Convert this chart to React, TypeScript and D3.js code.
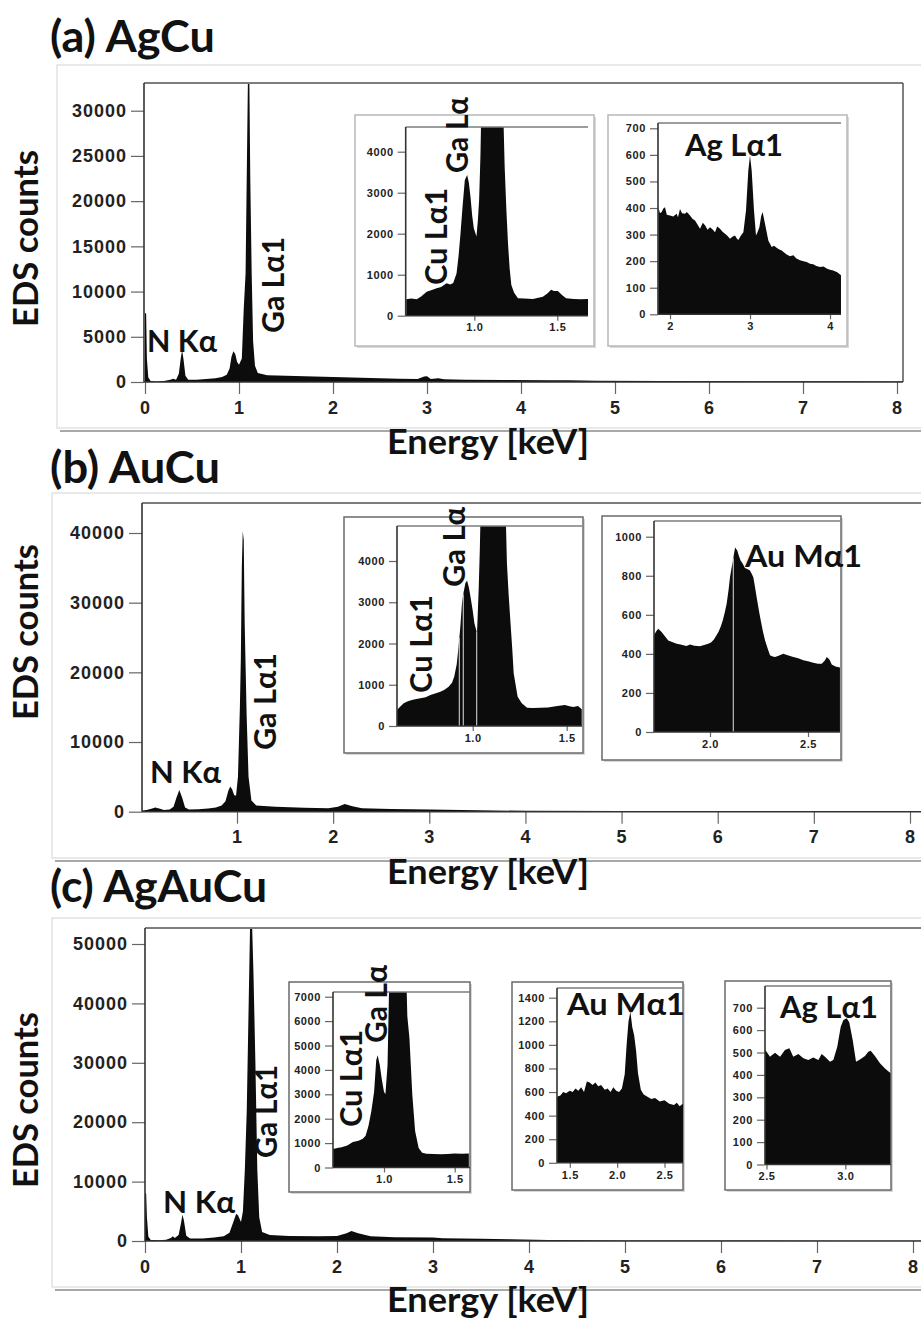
import React, { useEffect, useRef } from 'react';
import * as d3 from 'd3';

type Pt = [number, number];

// ---- main spectra, [energy keV, EDS counts] ----
const agcuSpectrum: Pt[] = [
  [0, 7600], [0.012, 7600], [0.02, 2600], [0.035, 500], [0.06, 120], [0.12, 60], [0.2, 110], [0.27, 250],
  [0.3, 350], [0.33, 260], [0.36, 900], [0.38, 2600], [0.395, 3500], [0.41, 2500], [0.43, 700], [0.46, 260],
  [0.55, 260], [0.65, 330], [0.75, 420], [0.82, 560], [0.87, 800], [0.9, 1500], [0.92, 2800], [0.94, 3400],
  [0.96, 3100], [0.98, 2200], [1.0, 1900], [1.03, 2600], [1.05, 8000], [1.07, 12000], [1.085, 25000],
  [1.095, 33500], [1.11, 33500], [1.12, 22500], [1.135, 12000], [1.15, 4500], [1.17, 1800], [1.2, 1000],
  [1.3, 750], [1.5, 680], [1.8, 600], [2.1, 520], [2.4, 430], [2.7, 360], [2.9, 330], [2.97, 620], [3.0, 640],
  [3.04, 340], [3.12, 420], [3.18, 300], [3.4, 260], [3.8, 220], [4.3, 180], [4.5, 200], [4.8, 150],
  [5.5, 120], [6.5, 90], [7.5, 70], [8.1, 60],
];
const aucuSpectrum: Pt[] = [
  [0.0, 150], [0.06, 250], [0.1, 400], [0.15, 600], [0.19, 450], [0.24, 250], [0.3, 300], [0.34, 700],
  [0.37, 2000], [0.4, 3100], [0.43, 2000], [0.46, 600], [0.5, 300], [0.6, 350], [0.7, 450], [0.78, 600],
  [0.84, 900], [0.88, 1500], [0.91, 3000], [0.93, 3600], [0.95, 3200], [0.97, 2400], [0.99, 2300],
  [1.01, 5000], [1.02, 10000], [1.03, 15000], [1.04, 22000], [1.05, 35000], [1.06, 40300], [1.07, 39000],
  [1.08, 27000], [1.1, 14000], [1.12, 5000], [1.15, 1600], [1.2, 900], [1.4, 700], [1.7, 550], [1.95, 500],
  [2.05, 700], [2.12, 1100], [2.2, 800], [2.3, 500], [2.6, 380], [3.0, 300], [3.5, 200], [4.0, 130],
  [5.0, 90], [6.0, 70], [7.0, 50], [8.3, 40],
];
const agaucuSpectrum: Pt[] = [
  [0, 8000], [0.012, 8000], [0.02, 4000], [0.035, 700], [0.06, 150], [0.15, 120], [0.22, 200], [0.27, 500],
  [0.29, 800], [0.31, 500], [0.35, 1000], [0.375, 3000], [0.39, 4400], [0.405, 3500], [0.43, 900],
  [0.47, 400], [0.6, 420], [0.72, 600], [0.82, 800], [0.88, 1400], [0.92, 3200], [0.95, 4600], [0.97, 4300],
  [1.0, 3200], [1.02, 5000], [1.04, 12000], [1.06, 22000], [1.08, 40000], [1.095, 53500], [1.115, 53500],
  [1.13, 45000], [1.15, 30000], [1.17, 12000], [1.19, 4000], [1.22, 1500], [1.3, 1000], [1.5, 850],
  [1.8, 800], [2.0, 850], [2.1, 1300], [2.15, 1700], [2.22, 1300], [2.35, 800], [2.6, 650], [3.0, 600],
  [3.1, 450], [3.5, 380], [3.8, 300], [4.2, 150], [5.0, 90], [6.0, 70], [7.3, 60], [7.5, 40], [8.3, 30],
];

// ---- inset spectra ----
const agcuCuGa: Pt[] = [
  [0.59, 400], [0.62, 420], [0.653, 400], [0.68, 470], [0.713, 585], [0.74, 620], [0.773, 668], [0.8, 700],
  [0.833, 790], [0.855, 760], [0.873, 800], [0.893, 1030], [0.905, 1450], [0.917, 2010], [0.93, 2700],
  [0.943, 3310], [0.957, 3430], [0.967, 3250], [0.977, 2900], [0.987, 2450], [0.997, 2130], [1.013, 1930],
  [1.021, 2300], [1.029, 2820], [1.037, 3900], [1.043, 5200], [1.1, 5600], [1.173, 5200], [1.183, 3630],
  [1.193, 2600], [1.203, 1770], [1.213, 1150], [1.223, 750], [1.24, 560], [1.263, 425], [1.3, 420],
  [1.353, 410], [1.38, 430], [1.413, 465], [1.44, 540], [1.463, 630], [1.48, 600], [1.503, 600], [1.53, 500],
  [1.553, 425], [1.6, 410], [1.64, 400], [1.687, 410],
];
const agcuAg: Pt[] = [
  [1.854, 403], [1.875, 380], [1.896, 385], [1.917, 398], [1.9375, 403], [1.96, 375], [2.0, 372], [2.04, 368],
  [2.083, 378], [2.1, 365], [2.125, 396], [2.15, 380], [2.1875, 378], [2.21, 385], [2.25, 372], [2.28, 360],
  [2.3125, 353], [2.34, 340], [2.375, 322], [2.41, 345], [2.4375, 335], [2.47, 318], [2.5, 328], [2.53, 320],
  [2.5625, 309], [2.59, 330], [2.625, 322], [2.66, 310], [2.6875, 303], [2.72, 295], [2.75, 284], [2.78, 292],
  [2.8125, 297], [2.835, 285], [2.854, 280], [2.885, 296], [2.917, 309], [2.95, 391], [2.979, 541], [3.0, 598],
  [3.021, 541], [3.05, 391], [3.075, 297], [3.095, 310], [3.117, 328], [3.14, 370], [3.158, 385], [3.1875, 341],
  [3.229, 278], [3.271, 253], [3.3, 258], [3.333, 250], [3.36, 245], [3.396, 240], [3.43, 232], [3.458, 225],
  [3.5, 218], [3.542, 222], [3.58, 210], [3.625, 203], [3.67, 200], [3.708, 197], [3.75, 190], [3.79, 188],
  [3.83, 182], [3.875, 178], [3.92, 180], [3.958, 172], [4.0, 168], [4.04, 165], [4.09, 158], [4.1375, 147],
];
const aucuCuGa: Pt[] = [
  [0.597, 388], [0.615, 470], [0.633, 550], [0.655, 600], [0.677, 630], [0.7, 655], [0.722, 672], [0.75, 700],
  [0.775, 752], [0.8, 790], [0.828, 833], [0.85, 880], [0.872, 954], [0.89, 1050], [0.902, 1197], [0.915, 1500],
  [0.925, 1925], [0.935, 2450], [0.943, 2980], [0.952, 3250], [0.961, 3463], [0.97, 3530], [0.98, 3350],
  [0.988, 3138], [1.0, 2800], [1.009, 2493], [1.023, 2250], [1.032, 3342], [1.038, 4300], [1.044, 5600],
  [1.1, 5800], [1.173, 5600], [1.182, 3950], [1.191, 3200], [1.2, 2573], [1.21, 1900], [1.218, 1279],
  [1.239, 711], [1.26, 560], [1.289, 444], [1.32, 435], [1.36, 440], [1.4, 450], [1.45, 485], [1.49, 510],
  [1.515, 480], [1.535, 460], [1.56, 485], [1.58, 405],
];
const aucuAu: Pt[] = [
  [1.714, 495], [1.725, 515], [1.736, 529], [1.745, 520], [1.753, 512], [1.77, 490], [1.787, 469], [1.81, 460],
  [1.83, 452], [1.85, 448], [1.864, 444], [1.88, 440], [1.898, 448], [1.92, 442], [1.949, 439], [1.97, 446],
  [1.991, 452], [2.005, 458], [2.02, 473], [2.03, 490], [2.043, 512], [2.055, 540], [2.065, 571], [2.075, 610],
  [2.085, 657], [2.095, 730], [2.102, 792], [2.11, 840], [2.116, 869], [2.122, 910], [2.128, 945], [2.139, 929],
  [2.148, 900], [2.156, 878], [2.168, 860], [2.178, 840], [2.19, 835], [2.204, 827], [2.212, 812], [2.221, 792],
  [2.23, 740], [2.238, 690], [2.25, 620], [2.259, 571], [2.27, 515], [2.281, 469], [2.295, 425], [2.306, 393],
  [2.32, 386], [2.332, 384], [2.35, 390], [2.374, 401], [2.4, 392], [2.425, 384], [2.45, 378], [2.476, 367],
  [2.5, 362], [2.527, 354], [2.55, 350], [2.57, 350], [2.585, 365], [2.596, 384], [2.61, 370], [2.621, 345],
  [2.64, 335], [2.663, 330],
];
const agaucuCuGa: Pt[] = [
  [0.64, 760], [0.67, 800], [0.7, 830], [0.74, 900], [0.78, 1040], [0.82, 1100], [0.85, 1180], [0.87, 1300],
  [0.89, 1700], [0.91, 2300], [0.93, 3100], [0.945, 4400], [0.955, 4600], [0.97, 4200], [0.985, 3600],
  [1.0, 3100], [1.01, 3000], [1.025, 4200], [1.04, 8500], [1.155, 8500], [1.165, 6200], [1.18, 5300],
  [1.2, 3000], [1.22, 1500], [1.245, 800], [1.27, 600], [1.3, 560], [1.35, 550], [1.4, 540], [1.45, 555],
  [1.5, 570], [1.55, 560], [1.6, 570],
];
const agaucuAu: Pt[] = [
  [1.365, 560], [1.4, 570], [1.43, 600], [1.46, 590], [1.5, 610], [1.53, 600], [1.56, 630], [1.59, 610],
  [1.62, 640], [1.65, 600], [1.68, 690], [1.71, 680], [1.74, 660], [1.77, 680], [1.8, 650], [1.83, 660],
  [1.87, 620], [1.9, 630], [1.93, 600], [1.96, 640], [1.99, 610], [2.02, 600], [2.05, 630], [2.08, 750],
  [2.1, 1000], [2.12, 1200], [2.14, 1280], [2.16, 1150], [2.18, 1080], [2.2, 950], [2.22, 760], [2.25, 620],
  [2.28, 580], [2.32, 560], [2.36, 540], [2.4, 550], [2.45, 520], [2.5, 530], [2.55, 500], [2.6, 490],
  [2.63, 510], [2.66, 480], [2.695, 500],
];
const agaucuAg: Pt[] = [
  [2.49, 514], [2.522, 481], [2.554, 499], [2.586, 481], [2.617, 511], [2.645, 519], [2.67, 481], [2.702, 493],
  [2.734, 474], [2.765, 466], [2.797, 478], [2.829, 466], [2.85, 493], [2.871, 481], [2.903, 459], [2.924, 466],
  [2.949, 526], [2.971, 615], [2.988, 645], [3.009, 653], [3.025, 635], [3.047, 556], [3.068, 459], [3.093, 469],
  [3.125, 484], [3.146, 503], [3.161, 508], [3.188, 484], [3.22, 452], [3.252, 429], [3.288, 407],
];

// missing channels that show as light lines through the panel (b) insets
const aucuCuGaGaps = [0.929, 0.95, 1.021];
const aucuAuGaps = [2.119];

// ---- ticks ----
const energyTicks = [0, 1, 2, 3, 4, 5, 6, 7, 8];
const energyTicksB = [1, 2, 3, 4, 5, 6, 7, 8];
const countTicksA = [0, 5000, 10000, 15000, 20000, 25000, 30000];
const countTicksB = [0, 10000, 20000, 30000, 40000];
const countTicksC = [0, 10000, 20000, 30000, 40000, 50000];

const FONT = 'Lato, "Open Sans", sans-serif';
const TICK_FONT = '"Liberation Sans", Arial, sans-serif';

type Label = { text: string; x: number; y: number; size: number; len: number; rot?: boolean };

const mainPanels = [
  {
    id: 'a', data: agcuSpectrum, box: [57, 65, 900, 363], left: 144, right: 903, top: 83, rightLine: true,
    xCal: [0, 145, 8, 897], yCal: [0, 382, 30000, 110.7], xTicks: energyTicks, yTicks: countTicksA,
    labels: [
      { text: '(a) AgCu', x: 50, y: 52, size: 43, len: 165 },
      { text: 'EDS counts', x: 38, y: 327, size: 35, len: 177, rot: true },
      { text: 'Energy [keV]', x: 387, y: 454, size: 34, len: 202 },
      { text: 'N Kα', x: 147, y: 352, size: 30, len: 70 },
      { text: 'Ga Lα1', x: 284, y: 333, size: 30, len: 96, rot: true },
    ] as Label[],
  },
  {
    id: 'b', data: aucuSpectrum, box: [52, 493, 900, 365], left: 142, right: 930, top: 503, rightLine: false,
    xCal: [1, 237, 8, 910], yCal: [0, 811.7, 40000, 533], xTicks: energyTicksB, yTicks: countTicksB,
    labels: [
      { text: '(b) AuCu', x: 50, y: 483, size: 43, len: 170 },
      { text: 'EDS counts', x: 38, y: 720, size: 35, len: 176, rot: true },
      { text: 'Energy [keV]', x: 387, y: 884, size: 34, len: 202 },
      { text: 'N Kα', x: 150, y: 783, size: 30, len: 71 },
      { text: 'Ga Lα1', x: 276, y: 750, size: 30, len: 97, rot: true },
    ] as Label[],
  },
  {
    id: 'c', data: agaucuSpectrum, box: [52, 918, 900, 369], left: 145, right: 930, top: 928, rightLine: false,
    xCal: [0, 145, 8, 913], yCal: [0, 1241, 50000, 944], xTicks: energyTicks, yTicks: countTicksC,
    labels: [
      { text: '(c) AgAuCu', x: 50, y: 902, size: 43, len: 217 },
      { text: 'EDS counts', x: 38, y: 1188, size: 35, len: 176, rot: true },
      { text: 'Energy [keV]', x: 387, y: 1312, size: 34, len: 202 },
      { text: 'N Kα', x: 163, y: 1213, size: 30, len: 72 },
      { text: 'Ga Lα1', x: 277, y: 1158, size: 30, len: 93, rot: true },
    ] as Label[],
  },
];

const insets = [
  {
    id: 'a1', data: agcuCuGa, box: [355, 115, 239, 231], boxColor: '#b8b8b8', left: 405.7, right: 588, top: 127,
    xCal: [1.0, 474.3, 1.5, 557.3], yCal: [0, 315.7, 4000, 151.7], xTicks: [1.0, 1.5], xFmt: '.1f',
    yTicks: [0, 1000, 2000, 3000, 4000], gaps: [] as number[],
    labels: [
      { text: 'Cu Lα1', x: 447, y: 285, size: 30, len: 97, rot: true },
      { text: 'Ga Lα', x: 468, y: 173, size: 30, len: 76, rot: true },
    ] as Label[],
  },
  {
    id: 'a2', data: agcuAg, box: [608, 115, 239, 231], boxColor: '#b8b8b8', left: 658, right: 841, top: 123,
    xCal: [2, 670, 4, 830], yCal: [0, 314.3, 700, 128.3], xTicks: [2, 3, 4], xFmt: 'd',
    yTicks: [0, 100, 200, 300, 400, 500, 600, 700], gaps: [] as number[],
    labels: [{ text: 'Ag Lα1', x: 685, y: 156, size: 30, len: 98 }] as Label[],
  },
  {
    id: 'b1', data: aucuCuGa, box: [344, 517, 239, 236], boxColor: '#6a6a6a', left: 397, right: 582, top: 526,
    xCal: [1.0, 472.7, 1.5, 566.7], yCal: [0, 726, 4000, 561], xTicks: [1.0, 1.5], xFmt: '.1f',
    yTicks: [0, 1000, 2000, 3000, 4000], gaps: aucuCuGaGaps,
    labels: [
      { text: 'Cu Lα1', x: 432, y: 693, size: 30, len: 98, rot: true },
      { text: 'Ga Lα', x: 465, y: 587, size: 30, len: 80, rot: true },
    ] as Label[],
  },
  {
    id: 'b2', data: aucuAu, box: [602, 516, 239, 244], boxColor: '#6a6a6a', left: 654, right: 840, top: 521,
    xCal: [2.0, 710, 2.5, 808], yCal: [0, 732, 1000, 536.7], xTicks: [2.0, 2.5], xFmt: '.1f',
    yTicks: [0, 200, 400, 600, 800, 1000], gaps: aucuAuGaps,
    labels: [{ text: 'Au Mα1', x: 745, y: 567, size: 30, len: 117 }] as Label[],
  },
  {
    id: 'c1', data: agaucuCuGa, box: [289, 982, 181, 210], boxColor: '#6a6a6a', left: 333, right: 470, top: 992,
    xCal: [1.0, 384, 1.5, 454.7], yCal: [0, 1167.5, 7000, 996.7], xTicks: [1.0, 1.5], xFmt: '.1f',
    yTicks: [0, 1000, 2000, 3000, 4000, 5000, 6000, 7000], gaps: [] as number[],
    labels: [
      { text: 'Cu Lα1', x: 362, y: 1127, size: 30, len: 97, rot: true },
      { text: 'Ga Lα', x: 387, y: 1043, size: 30, len: 78, rot: true },
    ] as Label[],
  },
  {
    id: 'c2', data: agaucuAu, box: [512, 982, 171, 208], boxColor: '#6a6a6a', left: 557, right: 683, top: 988,
    xCal: [1.5, 569.8, 2.5, 664.5], yCal: [0, 1162.8, 1400, 997.7], xTicks: [1.5, 2.0, 2.5], xFmt: '.1f',
    yTicks: [0, 200, 400, 600, 800, 1000, 1200, 1400], gaps: [] as number[],
    labels: [{ text: 'Au Mα1', x: 567, y: 1015, size: 30, len: 118 }] as Label[],
  },
  {
    id: 'c3', data: agaucuAg, box: [725, 981, 166, 209], boxColor: '#6a6a6a', left: 765, right: 890.7, top: 986,
    xCal: [2.5, 766.5, 3.0, 845.3], yCal: [0, 1164.5, 700, 1007.7], xTicks: [2.5, 3.0], xFmt: '.1f',
    yTicks: [0, 100, 200, 300, 400, 500, 600, 700], gaps: [] as number[],
    labels: [{ text: 'Ag Lα1', x: 780, y: 1018, size: 30, len: 98 }] as Label[],
  },
];

function addLabel(g: any, l: Label) {
  g.append('text')
    .attr('transform', l.rot ? `translate(${l.x},${l.y}) rotate(-90)` : `translate(${l.x},${l.y})`)
    .attr('font-family', FONT)
    .attr('font-weight', 700)
    .attr('font-size', l.size)
    .attr('fill', '#111')
    .attr('textLength', l.len)
    .attr('lengthAdjust', 'spacingAndGlyphs')
    .text(l.text);
}

function styleAxis(a: any, size: number, spacing: number) {
  a.attr('font-family', TICK_FONT).attr('font-size', size).attr('font-weight', 700);
  a.select('.domain').remove();
  a.selectAll('line').attr('stroke', '#666').attr('stroke-width', 1.2);
  a.selectAll('text').attr('fill', '#222').attr('letter-spacing', spacing);
}

function drawPlot(svg: any, defs: any, p: any, inset: boolean) {
  const g = svg.append('g');
  const [bx, by, bw, bh] = p.box;

  // outer frame
  if (inset) {
    g.append('rect').attr('x', bx + 2).attr('y', by + 2).attr('width', bw).attr('height', bh)
      .attr('fill', '#d8d8d8');
    g.append('rect').attr('x', bx).attr('y', by).attr('width', bw).attr('height', bh)
      .attr('fill', '#fff').attr('stroke', p.boxColor).attr('stroke-width', 1.5);
  } else {
    g.append('line').attr('x1', bx + 3).attr('x2', bx + bw).attr('y1', by + bh + 3).attr('y2', by + bh + 3)
      .attr('stroke', '#a8a8a8').attr('stroke-width', 2);
    g.append('rect').attr('x', bx).attr('y', by).attr('width', bw).attr('height', bh)
      .attr('fill', '#fff').attr('stroke', '#d4d4d4');
  }

  const x = d3.scaleLinear().domain([p.xCal[0], p.xCal[2]]).range([p.xCal[1], p.xCal[3]]);
  const y = d3.scaleLinear().domain([p.yCal[0], p.yCal[2]]).range([p.yCal[1], p.yCal[3]]);
  const y0 = y(0);

  defs.append('clipPath').attr('id', 'clip-' + p.id)
    .append('rect').attr('x', p.left).attr('y', p.top).attr('width', p.right - p.left).attr('height', y0 - p.top);

  const area = d3.area<Pt>().x(d => x(d[0])).y0(y0).y1(d => y(d[1]));
  g.append('path').datum(p.data).attr('d', area).attr('fill', '#0c0c0c')
    .attr('clip-path', `url(#clip-${p.id})`);

  // light dropout lines through the filled spectrum
  const level = d3.scaleLinear().domain(p.data.map((d: Pt) => d[0])).range(p.data.map((d: Pt) => d[1]));
  (p.gaps || []).forEach((e: number) => {
    g.append('line').attr('x1', x(e)).attr('x2', x(e)).attr('y1', y0).attr('y2', Math.max(p.top, y(level(e))))
      .attr('stroke', '#bdbdbd').attr('stroke-width', 1.2);
  });

  // plot frame
  g.append('line').attr('x1', p.left).attr('x2', p.right).attr('y1', p.top).attr('y2', p.top)
    .attr('stroke', '#7d7d7d').attr('stroke-width', inset ? 1.5 : 2.2);
  if (p.rightLine) {
    g.append('line').attr('x1', p.right).attr('x2', p.right).attr('y1', p.top).attr('y2', y0)
      .attr('stroke', '#555').attr('stroke-width', 1.5);
  }

  const tickFont = inset ? 11 : 18;
  const ya = g.append('g').attr('transform', `translate(${p.left},0)`)
    .call(d3.axisLeft(y).tickValues(p.yTicks).tickSize(inset ? 8 : 13).tickPadding(4)
      .tickFormat(d3.format('d')));
  styleAxis(ya, tickFont, inset ? 0.6 : 1);

  const xa = g.append('g').attr('transform', `translate(0,${y0})`)
    .call(d3.axisBottom(x).tickValues(p.xTicks).tickSize(inset ? 5 : 12).tickPadding(inset ? 3 : 7)
      .tickFormat(d3.format(p.xFmt || 'd')));
  styleAxis(xa, tickFont, inset ? 0.6 : 1);

  g.append('line').attr('x1', p.left).attr('x2', p.left).attr('y1', p.top).attr('y2', y0)
    .attr('stroke', '#333').attr('stroke-width', 1.6);
  g.append('line').attr('x1', p.left).attr('x2', p.right).attr('y1', y0).attr('y2', y0)
    .attr('stroke', '#333').attr('stroke-width', 1.6);

  p.labels.forEach((l: Label) => addLabel(g, l));
}

export default function App() {
  const ref = useRef<SVGSVGElement>(null);

  useEffect(() => {
    const svg = d3.select(ref.current);
    svg.selectAll('*').remove();
    const defs = svg.append('defs');
    mainPanels.forEach(p => drawPlot(svg, defs, p, false));
    insets.forEach(p => drawPlot(svg, defs, p, true));
  }, []);

  return (
    <svg
      ref={ref}
      width={921}
      height={1319}
      style={{ position: 'absolute', left: 0, top: 0, background: '#fff' }}
    />
  );
}
